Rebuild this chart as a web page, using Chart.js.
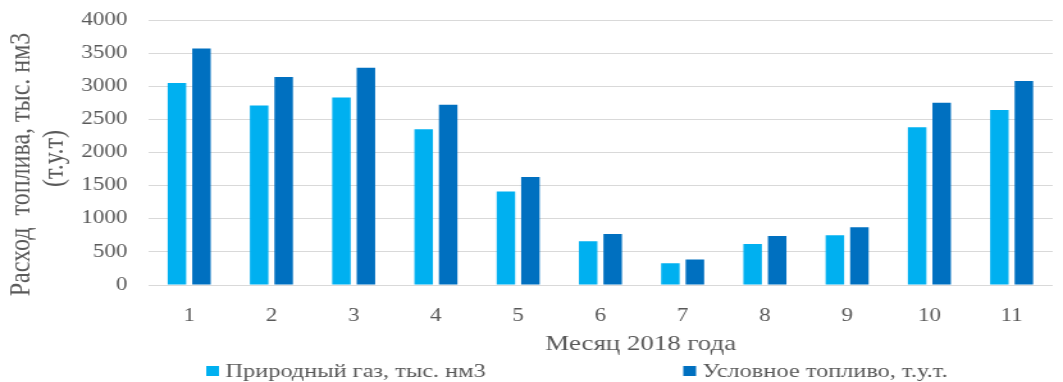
<!DOCTYPE html>
<html lang="ru">
<head>
<meta charset="utf-8">
<title>Расход топлива по месяцам 2018 года</title>
<script src="https://cdn.jsdelivr.net/npm/chart.js@4.4.1/dist/chart.umd.min.js"></script>
<style>
  html, body { margin: 0; padding: 0; background: #fff; overflow: hidden; }
  /* the chart is laid out narrower and widened horizontally, giving the wide serif lettering */
  #frame { position: absolute; left: 0; top: 0; width: 830px; height: 382px;
           transform: scaleX(1.2807); transform-origin: 0 0; }
</style>
</head>
<body>
<div id="frame"><canvas id="chart"></canvas></div>
<script>
// Monthly fuel consumption, 2018
const months = ['1', '2', '3', '4', '5', '6', '7', '8', '9', '10', '11'];
const naturalGas = [3050, 2710, 2830, 2350, 1410, 660, 330, 620, 750, 2380, 2640];
const equivalentFuel = [3570, 3140, 3280, 2720, 1630, 770, 385, 740, 870, 2750, 3080];
const yTickValues = [0, 500, 1000, 1500, 2000, 2500, 3000, 3500, 4000];
const seriesNames = ['Природный газ, тыс. нм3', 'Условное топливо, т.у.т.'];
const yTitleLines = ['Расход  топлива, тыс. нм3\u2003', '(т.у.т)\u2002'];
const xTitle = 'Месяц 2018 года';

const FONT = '"Liberation Serif", "Times New Roman", serif';
const TEXT = '#595959';
const GRID = '#d9d9d9';
const COLORS = ['#00B0F0', '#0070C0'];

// Legend row under the axis title: small squares with the series names
const legendRow = {
  id: 'legendRow',
  afterDraw(chart) {
    const ctx = chart.ctx;
    const y = 371;
    const starts = [161, 533.5];
    ctx.save();
    ctx.font = '19px ' + FONT;
    ctx.textBaseline = 'middle';
    ctx.textAlign = 'left';
    chart.data.datasets.forEach((ds, i) => {
      const x = starts[i];
      ctx.fillStyle = ds.backgroundColor;
      ctx.fillRect(x, y - 5, 10, 10);
      ctx.fillStyle = TEXT;
      ctx.fillText(ds.label, x + 15, y + 1);
    });
    ctx.restore();
  }
};

new Chart(document.getElementById('chart'), {
  type: 'bar',
  data: {
    labels: months,
    datasets: [
      { label: seriesNames[0], data: naturalGas, backgroundColor: COLORS[0],
        categoryPercentage: 0.596, barPercentage: 0.755 },
      { label: seriesNames[1], data: equivalentFuel, backgroundColor: COLORS[1],
        categoryPercentage: 0.596, barPercentage: 0.755 }
    ]
  },
  options: {
    responsive: true,
    maintainAspectRatio: false,
    animation: false,
    layout: { padding: { top: 20, right: 8, bottom: 25, left: 0 } },
    plugins: {
      legend: { display: false },
      tooltip: { enabled: false }
    },
    scales: {
      x: {
        grid: { display: false },
        border: { display: false },
        ticks: { color: TEXT, font: { family: FONT, size: 18 }, padding: 12, maxRotation: 0 },
        title: {
          display: true,
          text: '\u2003\u2003\u2003' + xTitle,
          color: TEXT,
          font: { family: FONT, size: 21 },
          padding: { top: 0, bottom: 0 }
        },
        afterFit(scale) { scale.height = 72; }
      },
      y: {
        min: 0,
        max: 4000,
        grid: { color: GRID, lineWidth: 1, drawTicks: false },
        border: { display: false },
        afterBuildTicks(scale) { scale.ticks = yTickValues.map(v => ({ value: v })); },
        ticks: {
          color: TEXT,
          font: { family: FONT, size: 18 },
          padding: 16,
          callback: v => String(v)
        },
        title: {
          display: true,
          text: yTitleLines,
          color: TEXT,
          font: { family: FONT, size: 24, lineHeight: 1.08 },
          padding: { top: 4.2, bottom: 0 }
        },
        afterFit(scale) {
          scale.width = 115.6;
          scale.paddingTop = 0;
          scale.paddingBottom = 0;
        }
      }
    }
  },
  plugins: [legendRow]
});
</script>
</body>
</html>
